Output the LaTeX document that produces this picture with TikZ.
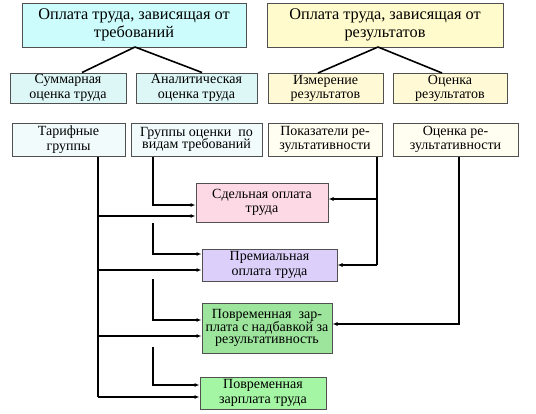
\documentclass[tikz,border=0pt]{standalone}
\usepackage{fontspec}
\setmainfont{Liberation Serif}
\usetikzlibrary{arrows.meta}
\definecolor{cyanA}{HTML}{CCFCFC}
\definecolor{cyanB}{HTML}{DDF6F6}
\definecolor{cyanC}{HTML}{F2FBFB}
\definecolor{yelA}{HTML}{FFFBCC}
\definecolor{yelB}{HTML}{FFF9D6}
\definecolor{yelC}{HTML}{FFFEF0}
\definecolor{pinkA}{HTML}{FCD9E4}
\definecolor{lilacA}{HTML}{DCD0FA}
\definecolor{greenA}{HTML}{9DE59D}
\definecolor{greenB}{HTML}{A4F5A4}
\definecolor{edge}{HTML}{505050}
\tikzset{
  box/.style={draw=edge, line width=1pt, rectangle, inner sep=1pt, align=center,
    font=\fontsize{14}{14.5}\selectfont},
  topbox/.style={box, font=\fontsize{16.3}{18}\selectfont},
  conn/.style={line width=1.6pt, black},
  arr/.style={conn, -{Latex[length=5pt,width=4pt]}},
}
\begin{document}
\begin{tikzpicture}[x=1pt,y=-1pt]
\useasboundingbox[fill=white] (0,0) rectangle (536,413);
% top row
\node[topbox, fill=cyanA, minimum width=224, minimum height=44] (T1) at (134,25) {Оплата труда, зависящая от\\требований};
\node[topbox, fill=yelA, minimum width=236, minimum height=44] (T2) at (385,25) {Оплата труда, зависящая от\\результатов};
% second row
\node[box, fill=cyanB, minimum width=116, minimum height=30] (S1) at (68,88) {Суммарная\\оценка труда};
\node[box, fill=cyanB, minimum width=121, minimum height=30] (S2) at (196.5,88) {Аналитическая\\оценка труда};
\node[box, fill=yelB, minimum width=115, minimum height=30] (S3) at (325.5,88.5) {Измерение\\результатов};
\node[box, fill=yelB, minimum width=114, minimum height=30] (S4) at (450,88.5) {Оценка\\результатов};
% third row
\node[box, fill=cyanC, minimum width=113, minimum height=33] (R1) at (68.5,139.5) {Тарифные\\группы};
\node[box, fill=cyanC, minimum width=131, minimum height=33] (R2) at (196.5,139.5) {Группы оценки\ \ по\\[-2pt]видам требований};
\node[box, fill=yelC, minimum width=114, minimum height=33] (R3) at (325,139.5) {Показатели ре-\\зультативности};
\node[box, fill=yelC, minimum width=125, minimum height=33] (R4) at (455.5,139.5) {Оценка ре-\\зультативности};
% result boxes
\node[box, fill=pinkA, minimum width=132, minimum height=39] (B1) at (262,202.5) {Сдельная оплата\\труда};
\node[box, fill=lilacA, minimum width=135, minimum height=32] (B2) at (269.5,265) {Премиальная\\оплата труда};
\node[box, fill=greenA, minimum width=130, minimum height=50] (B3) at (267,328) {Повременная\ \ зар-\\[-2pt]плата с надбавкой за\\[-2pt]результативность};
\node[box, fill=greenB, minimum width=126, minimum height=32] (B4) at (263,393) {Повременная\\зарплата труда};
% tree connectors
\coordinate (a1) at (135,47);
\coordinate (a2) at (378,47);
\draw[conn] (a1) -- ([xshift=14]S1.north);
\draw[conn] (a1) -- ([xshift=5.5]S2.north);
\draw[conn] (a2) -- ([xshift=-7.5]S3.north);
\draw[conn] (a2) -- ([xshift=-8]S4.north);
% vertical guide coordinates
\coordinate (xT) at (98,0);
\coordinate (xG) at (153,0);
\coordinate (xP) at (377,0);
\coordinate (xO) at (459,0);
% Тарифные группы
\draw[conn] (R1.south -| xT) -- (xT |- 0,397);
\draw[arr] (xT |- 0,216) -- (B1.west |- 0,216);
\draw[arr] (xT |- 0,270) -- (B2.west |- 0,270);
\draw[arr] (xT |- 0,336) -- (B3.west |- 0,336);
\draw[arr] (xT |- 0,397) -- (B4.west |- 0,397);
% Группы оценки
\draw[arr] (R2.south -| xG) -- (xG |- 0,205) -- (B1.west |- 0,205);
\draw[arr] (xG |- 0,223) -- (xG |- 0,254) -- (B2.west |- 0,254);
\draw[arr] (xG |- 0,279) -- (xG |- 0,320) -- (B3.west |- 0,320);
\draw[arr] (xG |- 0,347) -- (xG |- 0,385) -- (B4.west |- 0,385);
% Показатели
\draw[conn] (R3.south -| xP) -- (xP |- 0,265);
\draw[arr] (xP |- 0,199) -- (B1.east |- 0,199);
\draw[arr] (xP |- 0,265) -- (B2.east |- 0,265);
% Оценка результативности
\draw[arr] (R4.south -| xO) -- (xO |- 0,324) -- (B3.east |- 0,324);
\end{tikzpicture}
\end{document}
